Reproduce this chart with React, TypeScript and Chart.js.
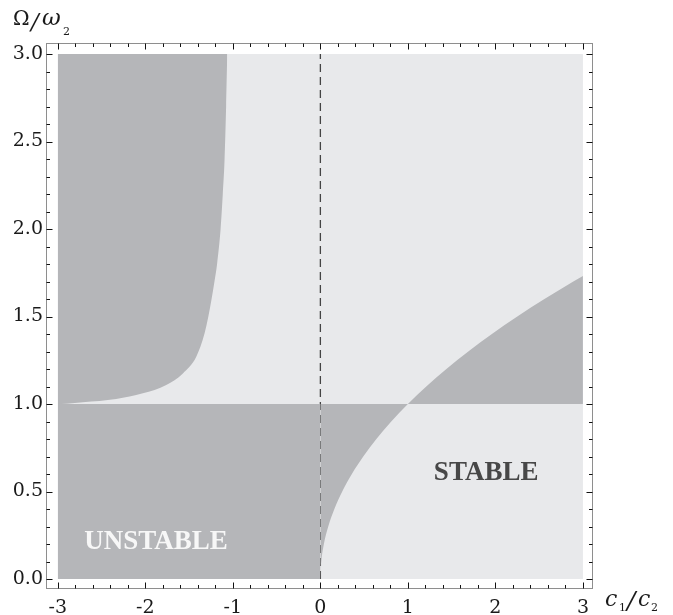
import React, { useEffect, useRef } from "react";
import { Chart, registerables } from "chart.js";

Chart.register(...registerables);

// Upper-left unstable boundary
const ulCurveX = [-3, -2.96, -2.714, -2.333, -2.028, -1.761, -1.571, -1.418, -1.323, -1.28, -1.245, -1.21, -1.18, -1.14, -1.115, -1.095, -1.077, -1.064];
const ulCurveY = [1.0, 1.0, 1.01, 1.029, 1.061, 1.109, 1.175, 1.27, 1.404, 1.5, 1.594, 1.7, 1.8, 2.0, 2.2, 2.394, 2.7, 3.0];

// Right boundary curve
const rCurveX = [0, 0.0025, 0.01, 0.04, 0.09, 0.16, 0.25, 0.36, 0.49, 0.64, 0.81, 1.0, 1.21, 1.44, 1.69, 1.96, 2.25, 2.56, 2.89, 3.0];
const rCurveY = [0, 0.05, 0.1, 0.2, 0.3, 0.4, 0.5, 0.6, 0.7, 0.8, 0.9, 1.0, 1.1, 1.2, 1.3, 1.4, 1.5, 1.6, 1.7, 1.732];

// Lower-left unstable rectangle top edge
const llX = [-3, 0];
const llY = [1, 1];

// Dashed line at c1/c2 = 0
const dashX = [0, 0];
const dashY = [0, 3];

const xTickValues = [-3, -2, -1, 0, 1, 2, 3];
const xTickLabels = ["-3", "-2", "-1", "0", "1", "2", "3"];
const yTickValues = [0, 0.5, 1, 1.5, 2, 2.5, 3];
const yTickLabels = ["0.0", "0.5", "1.0", "1.5", "2.0", "2.5", "3.0"];

const regionLabels = [
  { text: "STABLE", x: 1.894, y: 0.566, color: "#474747" },
  { text: "UNSTABLE", x: -1.878, y: 0.171, color: "#f7f7f7" },
];

const DARK = "#b5b6b9";
const LIGHT = "#e8e9eb";

const zip = (xs: number[], ys: number[]) => xs.map((x, i) => ({ x, y: ys[i] }));

export default function App() {
  const ref = useRef<HTMLCanvasElement>(null);
  useEffect(() => {
    if (!ref.current) return;
    const bgPlugin = {
      id: "bg",
      beforeDatasetsDraw(chart: any) {
        const { ctx, scales } = chart;
        const x = scales.x, y = scales.y;
        const l = x.getPixelForValue(-3), r = x.getPixelForValue(3);
        const t = y.getPixelForValue(3), b = y.getPixelForValue(0);
        ctx.save();
        ctx.fillStyle = LIGHT;
        ctx.fillRect(l, t, r - l, b - t);
        ctx.restore();
      },
    };
    const framePlugin = {
      id: "frame",
      afterDraw(chart: any) {
        const { ctx, chartArea: a, scales } = chart;
        const x = scales.x, y = scales.y;
        ctx.save();
        // region labels
        ctx.font = "bold 27px 'Liberation Serif'";
        ctx.textAlign = "center";
        ctx.textBaseline = "alphabetic";
        for (const lb of regionLabels) {
          ctx.fillStyle = lb.color;
          ctx.fillText(lb.text, x.getPixelForValue(lb.x), y.getPixelForValue(lb.y));
        }
        // frame
        const L = Math.round(a.left) + 0.5, R = Math.round(a.right) - 0.5;
        const T = Math.round(a.top) + 0.5, B = Math.round(a.bottom) - 0.5;
        ctx.strokeStyle = "#8e8e8e";
        ctx.lineWidth = 1;
        ctx.strokeRect(L, T, R - L, B - T);
        // ticks
        ctx.strokeStyle = "#111";
        ctx.beginPath();
        for (let i = -15; i <= 15; i++) {
          const v = i / 5;
          const len = i % 5 === 0 ? 6 : 3.5;
          const px = Math.round(x.getPixelForValue(v)) + 0.5;
          ctx.moveTo(px, B); ctx.lineTo(px, B - len);
          ctx.moveTo(px, T); ctx.lineTo(px, T + len);
        }
        for (let i = 0; i <= 30; i++) {
          const v = i / 10;
          const len = i % 5 === 0 ? 6 : 3.5;
          const py = Math.round(y.getPixelForValue(v)) + 0.5;
          ctx.moveTo(L, py); ctx.lineTo(L + len, py);
          ctx.moveTo(R, py); ctx.lineTo(R - len, py);
        }
        ctx.stroke();
        // tick labels
        ctx.fillStyle = "#1a1a1a";
        ctx.font = "19px 'DejaVu Serif'";
        ctx.textAlign = "center";
        ctx.textBaseline = "alphabetic";
        xTickValues.forEach((v, i) => {
          ctx.fillText(xTickLabels[i], x.getPixelForValue(v), 613);
        });
        ctx.textAlign = "right";
        ctx.textBaseline = "middle";
        yTickValues.forEach((v, i) => {
          ctx.fillText(yTickLabels[i], 43, y.getPixelForValue(v));
        });
        // axis titles
        ctx.textAlign = "left";
        ctx.textBaseline = "alphabetic";
        const put = (t: string, f: string, px: number, py: number) => {
          ctx.font = f;
          ctx.fillText(t, px, py);
        };
        put("Ω", "20px 'DejaVu Serif'", 13, 25);
        put("/", "italic 23px 'DejaVu Serif'", 31, 29);
        put("ω", "italic 23px 'DejaVu Serif'", 42, 25);
        put("2", "11px 'DejaVu Serif'", 63, 35);
        put("c", "italic 22px 'DejaVu Serif'", 605, 606);
        put("1", "11px 'DejaVu Serif'", 619, 611);
        put("/", "italic 25px 'DejaVu Serif'", 627, 609);
        put("c", "italic 22px 'DejaVu Serif'", 638, 606);
        put("2", "11px 'DejaVu Serif'", 651, 611);
        ctx.restore();
      },
    };
    const chart = new Chart(ref.current, {
      type: "scatter",
      data: {
        datasets: [
          {
            data: zip(llX, llY),
            showLine: true,
            fill: { value: 0 },
            backgroundColor: DARK,
            borderWidth: 0,
            pointRadius: 0,
          },
          {
            data: zip(rCurveX, rCurveY),
            showLine: true,
            fill: { value: 1 },
            backgroundColor: DARK,
            borderWidth: 0,
            pointRadius: 0,
            cubicInterpolationMode: "monotone",
          },
          {
            data: zip(ulCurveX, ulCurveY),
            showLine: true,
            fill: { value: 3 },
            backgroundColor: DARK,
            borderWidth: 0,
            pointRadius: 0,
            cubicInterpolationMode: "monotone",
          },
          {
            data: zip(dashX, dashY),
            showLine: true,
            fill: false,
            borderColor: "#444",
            borderWidth: 1.3,
            borderDash: [8, 5],
            pointRadius: 0,
          },
        ],
      } as any,
      options: {
        animation: false,
        responsive: false,
        devicePixelRatio: 1,
        layout: { padding: { left: 46, top: 43, right: 80, bottom: 26 } },
        plugins: { legend: { display: false }, tooltip: { enabled: false } },
        scales: {
          x: { type: "linear", min: -3.135, max: 3.115, display: false },
          y: { type: "linear", min: -0.057, max: 3.063, display: false },
        },
      } as any,
      plugins: [bgPlugin, framePlugin],
    });
    return () => chart.destroy();
  }, []);
  return (
    <div style={{ position: "fixed", left: 0, top: 0 }}>
      <canvas ref={ref} width={673} height={615} style={{ display: "block" }} />
    </div>
  );
}
